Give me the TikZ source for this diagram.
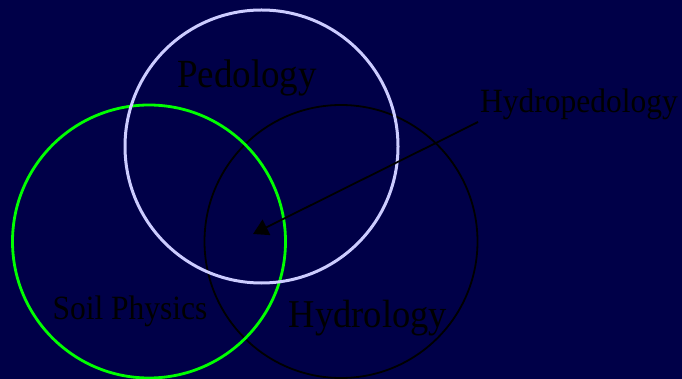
\documentclass[tikz,border=0pt]{standalone}
\usepackage{fontspec}
\setmainfont{Liberation Serif}
\usetikzlibrary{arrows.meta}
\definecolor{bgnavy}{HTML}{000048}
\definecolor{lavender}{HTML}{CCCCFF}
\definecolor{brightgreen}{HTML}{00FF00}
\begin{document}
\begin{tikzpicture}[x=1pt,y=-1pt,
  ring/.style={circle, draw, minimum size=273pt, inner sep=0pt},
  lbl/.style={text=black, inner sep=0pt, anchor=center}]
\fill[bgnavy] (0,0) rectangle (682,379);
\useasboundingbox (0,0) rectangle (682,379);
\node[ring, draw=black, line width=1.8pt] (hyd) at (341,241.5) {};
\node[ring, draw=brightgreen, line width=2.8pt] (soil) at (149,241.5) {};
\node[ring, draw=lavender, line width=3pt] (ped) at (261.5,146.5) {};
\node[lbl, font=\fontsize{37}{40}\selectfont, yscale=1.08] (pedl) at (247,78) {Pedology};
\node[lbl, font=\fontsize{31.5}{34}\selectfont, yscale=1.08] (hpl) at (579,104) {Hydropedology};
\node[lbl, font=\fontsize{31.5}{34}\selectfont, yscale=1.08] (soill) at (130,311) {Soil Physics};
\node[lbl, font=\fontsize{36.5}{39}\selectfont, yscale=1.08] (hydl) at (368,318) {Hydrology};
\coordinate (astart) at (478,122);
\coordinate (aend) at (253,234);
\draw[black, line width=1.8pt, -{Triangle[length=15pt,width=17pt]}] (astart) -- (aend);
\end{tikzpicture}
\end{document}
